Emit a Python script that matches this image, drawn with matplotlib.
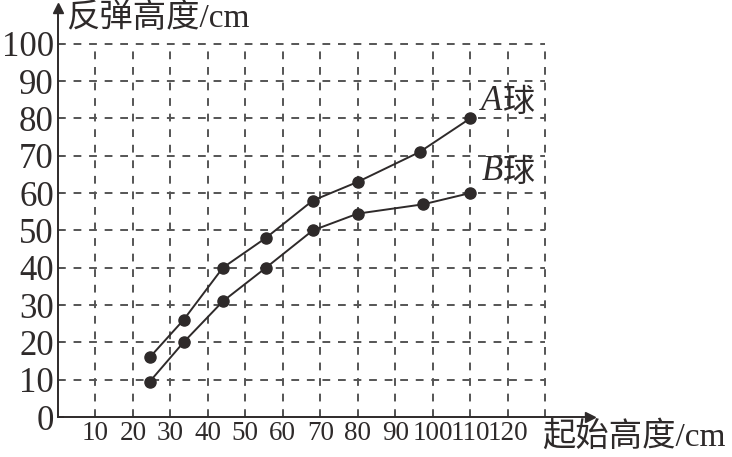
import matplotlib
matplotlib.use("Agg")
import matplotlib.pyplot as plt

# 起始高度 (cm) 与反弹高度 (cm)
start_a = [24.5, 33.5, 44, 55.5, 68, 80, 96.5, 110]
bounce_a = [16, 26, 40, 48, 58, 63, 71, 80]
start_b = [24.5, 33.5, 44, 55.5, 68, 80, 97.5, 110]
bounce_b = [9.5, 20, 31, 40, 50, 54.5, 57, 60]
x_ticks = [10, 20, 30, 40, 50, 60, 70, 80, 90, 100, 110, 120]
y_ticks = [0, 10, 20, 30, 40, 50, 60, 70, 80, 90, 100]

serif = ["Liberation Serif", "DejaVu Serif"]
cjk = ["Liberation Serif", "Noto Sans CJK SC", "DejaVu Sans"]
ink = "#2e2a2a"

fig = plt.figure(figsize=(7.32, 4.57), dpi=100)
ax = fig.add_axes([58 / 732, 40 / 457, 532 / 732, 409 / 457])
ax.set_xlim(0, 142)
ax.set_ylim(0, 109.6)

# 虚线网格
ax.vlines(x_ticks + [130], 0, 100, colors="#555555", linestyles=(0, (4, 4)), lw=1.4)
ax.hlines(y_ticks[1:], 0, 130, colors="#555555", linestyles=(0, (4, 4)), lw=1.4)

ax.plot(start_a, bounce_a, "-o", color=ink, lw=1.4, ms=8, zorder=3)
ax.plot(start_b, bounce_b, "-o", color=ink, lw=1.4, ms=8, zorder=3)

# 球的名称
for name, yv in [("A", 84.5), ("B", 65.7)]:
    t = ax.text(113, yv, name, fontsize=25, family=serif, style="italic", color=ink,
                va="center", ha="left")
    ax.annotate("球", xy=(1, 0.5), xycoords=t, xytext=(0, 0), textcoords="offset points",
                fontsize=23, family=["Noto Sans CJK SC", "DejaVu Sans"], color=ink,
                va="center", ha="left")

for s in ["top", "right"]:
    ax.spines[s].set_visible(False)
for s in ["left", "bottom"]:
    ax.spines[s].set_color(ink)
    ax.spines[s].set_linewidth(1.4)
ax.plot(1, 0, ">", color=ink, ms=7, transform=ax.transAxes, clip_on=False)
ax.plot(0, 1, "^", color=ink, ms=7, transform=ax.transAxes, clip_on=False)

ax.set_xticks(x_ticks)
ax.set_yticks(y_ticks)
ax.tick_params(direction="in", length=4, width=1.2, color=ink, labelcolor=ink,
               labelfontfamily="Liberation Serif")
ax.tick_params(axis="x", labelsize=19.5, pad=3)
ax.tick_params(axis="y", labelsize=25, pad=3)

fig.text(66 / 732, 1 - 18 / 457, "反弹高度/cm", fontsize=24, family=cjk,
         color=ink, va="center", ha="left")
fig.text(542 / 732, 1 - 437 / 457, "起始高度/cm", fontsize=24, family=cjk,
         color=ink, va="center", ha="left")

fig.savefig("out.png", dpi=100)
